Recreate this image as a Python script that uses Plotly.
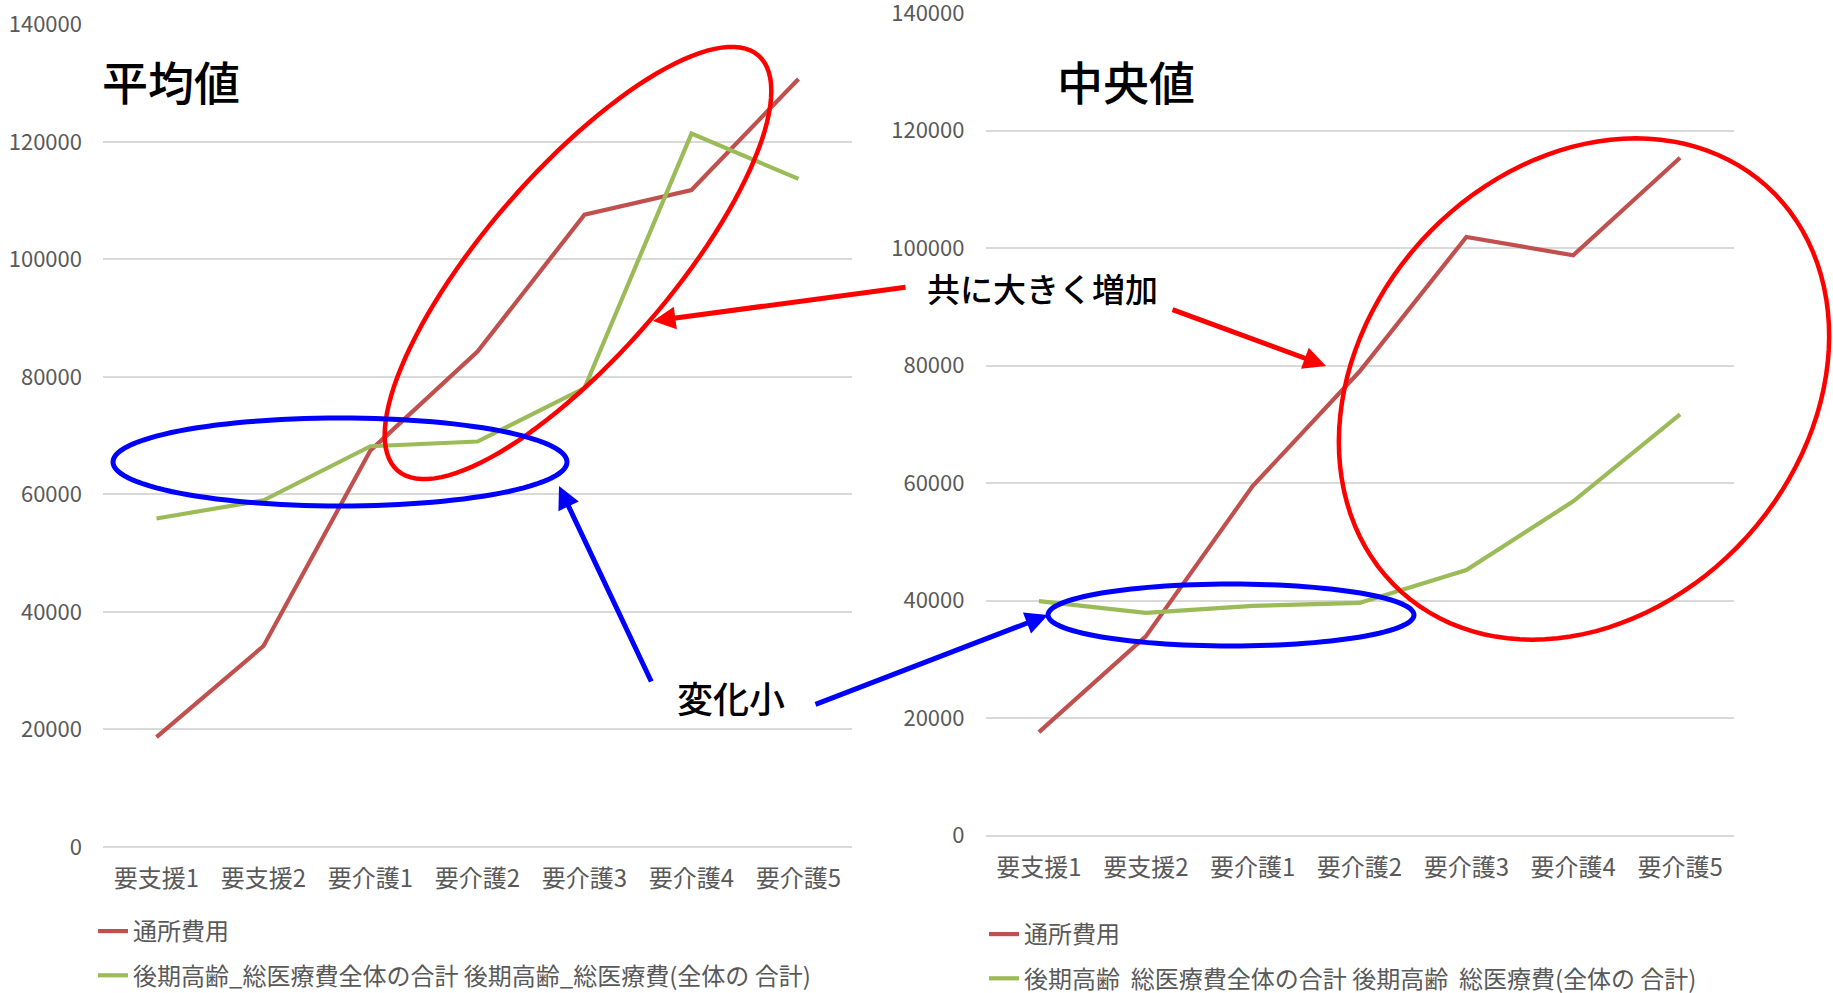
import numpy as np
import plotly.graph_objects as go

W, H = 1833, 993

categories = ["要支援1", "要支援2", "要介護1", "要介護2", "要介護3", "要介護4", "要介護5"]
y_ticks = [0, 20000, 40000, 60000, 80000, 100000, 120000, 140000]

series_day = "通所費用"
series_med_left = "後期高齢_総医療費全体の合計 後期高齢_総医療費(全体の 合計)"
series_med_right = "後期高齢  総医療費全体の合計 後期高齢  総医療費(全体の 合計)"

# 平均値
mean_day = [18700, 34200, 67500, 84300, 107600, 111800, 130700]
mean_med = [55900, 59000, 68200, 69000, 78100, 121400, 113700]
# 中央値
median_day = [17600, 33900, 59500, 79000, 101900, 98800, 115400]
median_med = [39900, 37900, 39100, 39600, 45200, 56900, 71700]

RED = "#C0504D"
GREEN = "#9BBB59"
GRID = "#D9D9D9"
TXT = "#595959"
FONT = "Noto Sans CJK JP"
LW = 4.2


def px(x):
    return x / W


def py(y):
    return 1 - y / H


fig = go.Figure()

fig.add_trace(go.Scatter(x=categories, y=mean_day, mode="lines", name=series_day,
                         line=dict(color=RED, width=LW), xaxis="x", yaxis="y",
                         legend="legend", legendgroup="a"))
fig.add_trace(go.Scatter(x=categories, y=mean_med, mode="lines", name=series_med_left,
                         line=dict(color=GREEN, width=LW), xaxis="x", yaxis="y",
                         legend="legend", legendgroup="b"))
fig.add_trace(go.Scatter(x=categories, y=median_day, mode="lines", name=series_day,
                         line=dict(color=RED, width=LW), xaxis="x2", yaxis="y2",
                         legend="legend2", legendgroup="c"))
fig.add_trace(go.Scatter(x=categories, y=median_med, mode="lines", name=series_med_right,
                         line=dict(color=GREEN, width=LW), xaxis="x2", yaxis="y2",
                         legend="legend2", legendgroup="d"))

xcommon = dict(type="category", range=[-0.5, 6.5], showgrid=False, showline=False,
               zeroline=False, ticks="", tickfont=dict(family=FONT, size=24, color=TXT),
               ticklabelstandoff=15, automargin=False, fixedrange=True,
               ticklabeloverflow="allow")
ycommon = dict(range=[0, 140050], tickvals=y_ticks, ticktext=[str(v) for v in y_ticks],
               showgrid=True, gridcolor=GRID, gridwidth=2, zeroline=True,
               zerolinecolor=GRID, zerolinewidth=2, showline=False, ticks="",
               tickfont=dict(family=FONT, size=22, color=TXT), ticklabelstandoff=20,
               automargin=False, fixedrange=True, ticklabeloverflow="allow")

legend_font = dict(family=FONT, size=24, color=TXT)

fig.update_layout(
    width=W, height=H,
    margin=dict(l=0, r=0, t=0, b=0, autoexpand=False),
    paper_bgcolor="white", plot_bgcolor="white",
    font=dict(family=FONT, color=TXT),
    xaxis=dict(domain=[px(103), px(852)], anchor="y", **xcommon),
    yaxis=dict(domain=[py(847), py(24)], anchor="x", **ycommon),
    xaxis2=dict(domain=[px(985.5), px(1733.5)], anchor="y2", **xcommon),
    yaxis2=dict(domain=[py(835.5), py(13)], anchor="x2", **ycommon),
    legend=dict(x=px(93), y=py(909), xanchor="left", yanchor="top",
                orientation="v", tracegroupgap=10, bgcolor="rgba(0,0,0,0)",
                font=legend_font),
    legend2=dict(x=px(984), y=py(912), xanchor="left", yanchor="top",
                 orientation="v", tracegroupgap=10, bgcolor="rgba(0,0,0,0)",
                 font=legend_font),
    showlegend=True,
)


def ellipse_path(cx, cy, a, b, deg, n=120):
    """Closed SVG path of an ellipse given in pixel units, tilted by deg (counter-clockwise on screen)."""
    t = np.linspace(0, 2 * np.pi, n, endpoint=False)
    r = np.deg2rad(deg)
    xs = cx + a * np.cos(t) * np.cos(r) - b * np.sin(t) * np.sin(r)
    ys = cy - (a * np.cos(t) * np.sin(r) + b * np.sin(t) * np.cos(r))
    pts = [f"{px(x):.5f},{py(y):.5f}" for x, y in zip(xs, ys)]
    return "M" + " L".join(pts) + " Z"


shapes = [
    dict(type="path", path=ellipse_path(578, 263, 275, 92, 49),
         xref="paper", yref="paper", line=dict(color="#FF0000", width=4.5)),
    dict(type="path", path=ellipse_path(340, 462, 227, 44, 0),
         xref="paper", yref="paper", line=dict(color="#0000FF", width=5)),
    dict(type="path", path=ellipse_path(1584, 389, 273, 220, 48),
         xref="paper", yref="paper", line=dict(color="#FF0000", width=4.5)),
    dict(type="path", path=ellipse_path(1231, 615, 183, 31, 0),
         xref="paper", yref="paper", line=dict(color="#0000FF", width=5)),
]
fig.update_layout(shapes=shapes)


def arrow(tip, tail, color):
    return dict(x=px(tip[0]), y=py(tip[1]), xref="paper", yref="paper", text="",
                showarrow=True, ax=tail[0] - tip[0], ay=tail[1] - tip[1],
                arrowhead=2, arrowsize=0.9, arrowwidth=5, arrowcolor=color)


def label(text, x, y, size):
    return dict(x=px(x), y=py(y), xref="paper", yref="paper", text=text,
                showarrow=False, xanchor="center", yanchor="middle",
                font=dict(family=FONT, size=size, color="#000000", weight=500))


annotations = [
    arrow((653, 321), (907, 287), "#FF0000"),
    arrow((1326, 366), (1171, 309), "#FF0000"),
    arrow((559, 486), (652, 683), "#0000FF"),
    arrow((1048, 615), (814, 705), "#0000FF"),
    label("平均値", 171, 80, 46),
    label("中央値", 1126, 80, 46),
    label("共に大きく増加", 1042, 288, 33),
    label("変化小", 731, 697, 36),
]
fig.update_layout(annotations=annotations)

fig.write_html("out.html")
